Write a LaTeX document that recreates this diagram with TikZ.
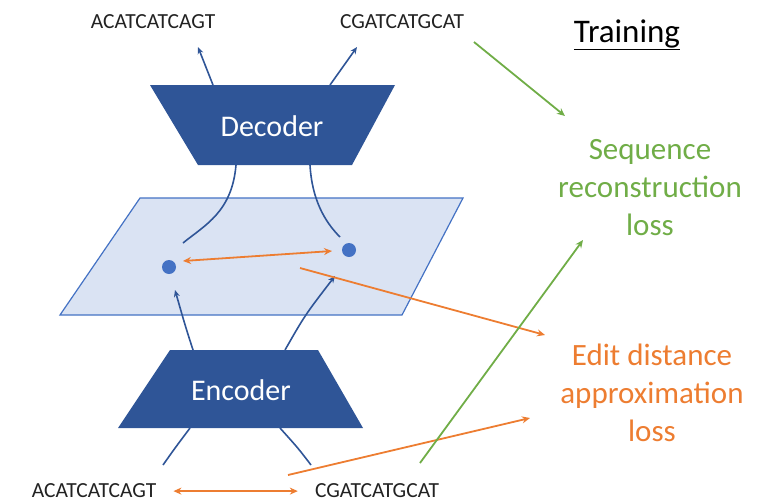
\documentclass[tikz,border=0pt]{standalone}
\usepackage{fontspec}
\setmainfont{Carlito}
\usetikzlibrary{arrows.meta}
\definecolor{dblue}{HTML}{2F5597}
\definecolor{lblue}{HTML}{DAE3F3}
\definecolor{mblue}{HTML}{4472C4}
\definecolor{ogreen}{HTML}{70AD47}
\definecolor{oorange}{HTML}{ED7D31}
\definecolor{seqgray}{HTML}{222222}
\tikzset{
  seqlabel/.style={font=\fontsize{21.5}{24}\selectfont, text=seqgray, inner sep=0pt, anchor=base},
  boxlabel/.style={font=\fontsize{30}{36}\selectfont, text=white, inner sep=0pt},
  losslabel/.style={font=\fontsize{31}{38}\selectfont, align=center, inner sep=0pt},
  bluearrow/.style={draw=dblue, line width=1.6pt, -{Stealth[length=7pt,width=6pt]}},
  blueline/.style={draw=dblue, line width=1.6pt},
  orangearrow/.style={draw=oorange, line width=1.8pt, -{Stealth[length=8pt,width=7pt]}},
  orangedouble/.style={draw=oorange, line width=1.8pt, {Stealth[length=8pt,width=7pt]}-{Stealth[length=8pt,width=7pt]}},
  greenarrow/.style={draw=ogreen, line width=1.8pt, -{Stealth[length=8pt,width=7pt]}},
  dot/.style={circle, fill=mblue, inner sep=0pt, minimum size=14pt},
}
\begin{document}
\begin{tikzpicture}[x=1pt,y=-1pt]
\useasboundingbox (0,0) rectangle (758,501);
% plane
\draw[fill=lblue, draw=mblue, line width=1.2pt] (140,198) -- (463,198) -- (402,315) -- (60,315) -- cycle;
% decoder / encoder trapezoids
\fill[dblue] (150,85) -- (395,85) -- (352,165) -- (198,165) -- cycle;
\fill[dblue] (170,350) -- (318,350) -- (363,428) -- (118,428) -- cycle;
\node[boxlabel] (dec) at (272,126) {Decoder};
\node[boxlabel] (enc) at (241,390) {Encoder};
% texts
\node[seqlabel] (tl) at (153,28) {ACATCATCAGT};
\node[seqlabel] (tr) at (402,28) {CGATCATGCAT};
\node[seqlabel] (bl) at (94,497) {ACATCATCAGT};
\node[seqlabel] (br) at (377,497) {CGATCATGCAT};
\node[font=\fontsize{33}{38}\selectfont, inner sep=0pt] (train) at (627,35) {\underline{Training}};
\node[losslabel, text=ogreen] (seqloss) at (650,188) {Sequence\\reconstruction\\loss};
\node[losslabel, text=oorange] (editloss) at (652,393) {Edit distance\\approximation\\loss};
% dots
\node[dot] (d1) at (169,267) {};
\node[dot] (d2) at (349,250) {};
% coordinates
\coordinate (decTL) at (213,85);
\coordinate (decTR) at (330,85);
\coordinate (decBL) at (236,165);
\coordinate (decBR) at (310,165);
\coordinate (encTL) at (193,350);
\coordinate (encTR) at (285,350);
\coordinate (encBL) at (190,428);
\coordinate (encBR) at (280,428);
\coordinate (e1) at (183,243);
\coordinate (e2) at (340,237);
\coordinate (a1) at (175,290);
\coordinate (a2) at (335,276);
\coordinate (b1) at (163,465);
\coordinate (b2) at (311,465);
% decoder outputs
\draw[bluearrow] (decTL) -- (198,47);
\draw[bluearrow] (decTR) -- (357,47);
% decoder to plane
\draw[blueline] (decBL) .. controls (232,212) and (205,225) .. (e1);
\draw[blueline] (decBR) .. controls (312,200) and (325,222) .. (e2);
% encoder to plane
\draw[bluearrow] (encTL) .. controls (185,325) .. (a1);
\draw[bluearrow] (encTR) .. controls (305,315) .. (a2);
% inputs to encoder
\draw[blueline] (b1) .. controls (175,448) .. (encBL);
\draw[blueline] (b2) .. controls (298,448) .. (encBR);
% orange
\draw[orangedouble] (183,261) -- (332,251);
\draw[orangearrow] (300,268) -- (545,335);
\draw[orangedouble] ([xshift=17pt,yshift=-1pt]bl.east) -- ([xshift=-17pt,yshift=-1pt]br.west);
\draw[orangearrow] (288,475) -- (530,418);
% green
\draw[greenarrow] (474,42) -- (565,116);
\draw[greenarrow] (420,463) -- (583,240);
\end{tikzpicture}
\end{document}
